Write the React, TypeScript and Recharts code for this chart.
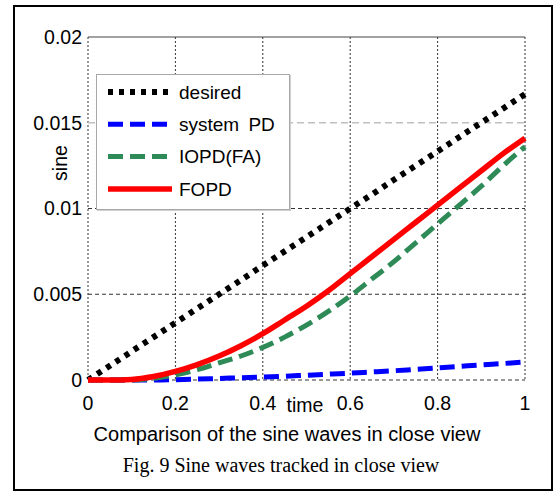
import React from 'react';
import { LineChart, Line, XAxis, YAxis, CartesianGrid, Legend, ReferenceLine } from 'recharts';

// time samples
const time = [0, 0.05, 0.1, 0.15, 0.2, 0.25, 0.3, 0.35, 0.4, 0.45, 0.5, 0.55, 0.6, 0.65, 0.7, 0.75, 0.8, 0.85, 0.9, 0.95, 1];

const desired = [0, 0.00083, 0.00167, 0.0025, 0.00333, 0.00417, 0.005, 0.00583, 0.00667, 0.0075, 0.00833, 0.00917, 0.01, 0.01083, 0.01167, 0.0125, 0.01333, 0.01417, 0.015, 0.01583, 0.01667];
const systemPD = [0, 0, 0, 0, 0.00002, 0.00005, 0.00009, 0.00013, 0.00017, 0.00022, 0.00028, 0.00034, 0.0004, 0.00047, 0.00054, 0.00062, 0.0007, 0.00079, 0.00088, 0.00096, 0.00105];
const iopdFA = [0, 0, 0, 0.0001, 0.0003, 0.0006, 0.001, 0.0014, 0.0019, 0.0025, 0.0032, 0.004, 0.0049, 0.0059, 0.0069, 0.008, 0.0091, 0.0102, 0.0113, 0.0125, 0.0136];
const fopd = [0, 0, 0.00003, 0.0002, 0.0005, 0.0009, 0.0014, 0.002, 0.0027, 0.0035, 0.0043, 0.0052, 0.0062, 0.0072, 0.0082, 0.0092, 0.0102, 0.0112, 0.0122, 0.0132, 0.0141];

const xTicks = [0, 0.2, 0.4, 0.6, 0.8, 1];
const xTickLabels = ['0', '0.2', '0.4', '0.6', '0.8', '1'];
const yTicks = [0, 0.005, 0.01, 0.015, 0.02];
const yTickLabels = ['0', '0.005', '0.01', '0.015', '0.02'];

const data = time.map((t, i) => ({
  t,
  desired: desired[i],
  systemPD: systemPD[i],
  iopdFA: iopdFA[i],
  fopd: fopd[i],
}));

const series = [
  { key: 'desired', name: 'desired', color: '#000000', width: 6, dash: '5 6' },
  { key: 'systemPD', name: 'system PD', color: '#0000ff', width: 5, dash: '15 7' },
  { key: 'iopdFA', name: 'IOPD(FA)', color: '#2e8b57', width: 5, dash: '15 7' },
  { key: 'fopd', name: 'FOPD', color: '#ff0000', width: 5.5, dash: undefined as string | undefined },
];

const FONT = 'Arial, "Liberation Sans", sans-serif';

// legend keeps the plotting order (desired first, FOPD last)
const LegendBox = () => (
  <div
    style={{
      width: 194,
      height: 136,
      boxSizing: 'border-box',
      background: '#fff',
      border: '1px solid #a8a8a8',
      boxShadow: '1px 1px 0 #cfcfcf',
    }}
  >
    <svg width={192} height={134} style={{ display: 'block' }}>
      {series.map((s, i) => {
        const cy = 17 + i * 32.3;
        return (
          <g key={s.key}>
            <line x1={11} x2={75} y1={cy} y2={cy} stroke={s.color} strokeWidth={s.width} strokeDasharray={s.dash} />
            <text x={82} y={cy} dy="0.36em" fontSize={19} fontFamily={FONT} fill="#000" wordSpacing={4}>
              {s.name}
            </text>
          </g>
        );
      })}
    </svg>
  </div>
);

const App: React.FC = () => {
  return (
    <div style={{ position: 'absolute', left: 0, top: 0, width: 555, height: 492, background: '#fff', fontFamily: FONT }}>
      <div
        style={{
          position: 'absolute',
          left: 13,
          top: 5,
          width: 540,
          height: 486,
          boxSizing: 'border-box',
          border: '2px solid #000',
        }}
      />
      <div style={{ position: 'absolute', left: 0, top: 0 }}>
        <LineChart width={555} height={492} data={data} margin={{ top: 37, right: 30, bottom: 82, left: 28 }}>
          <CartesianGrid horizontal={false} stroke="#333" strokeDasharray="2 2" verticalValues={xTicks} />
          <CartesianGrid vertical={false} stroke="#333" strokeDasharray="4 3" horizontalValues={[0, 0.005, 0.01]} />
          <ReferenceLine y={0.015} stroke="#c0c0c0" strokeWidth={1.5} strokeDasharray="7 4" />
          <ReferenceLine y={0.02} stroke="#444" strokeWidth={1} />
          <XAxis
            type="number"
            dataKey="t"
            domain={[0, 1]}
            ticks={xTicks}
            tickFormatter={(v: number) => xTickLabels[xTicks.indexOf(v)] ?? String(v)}
            axisLine={false}
            tickLine={false}
            tickSize={6}
            tickMargin={10}
            tick={{ fill: '#000', fontSize: 19.5, fontFamily: FONT }}
            height={30}
          />
          <YAxis
            type="number"
            domain={[0, 0.02]}
            ticks={yTicks}
            tickFormatter={(v: number) => yTickLabels[yTicks.indexOf(v)] ?? String(v)}
            axisLine={false}
            tickLine={false}
            tickSize={6}
            tickMargin={0}
            tick={{ fill: '#000', fontSize: 19.5, fontFamily: FONT }}
            width={60}
          />
          <Legend
            layout="vertical"
            align="center"
            verticalAlign="middle"
            content={LegendBox}
            wrapperStyle={{ left: 96, top: 74, width: 194, height: 136 }}
          />
          {series.map((s) => (
            <Line
              key={s.key}
              type="monotone"
              dataKey={s.key}
              name={s.name}
              stroke={s.color}
              strokeWidth={s.width}
              strokeDasharray={s.dash}
              dot={false}
              activeDot={false}
              isAnimationActive={false}
            />
          ))}
        </LineChart>
      </div>
      <div
        style={{
          position: 'absolute',
          left: 61,
          top: 163,
          transform: 'translate(-50%, -50%) rotate(-90deg)',
          fontSize: 19.5,
          lineHeight: 1,
          whiteSpace: 'nowrap',
        }}
      >
        sine
      </div>
      <div
        style={{
          position: 'absolute',
          left: 305,
          top: 396,
          transform: 'translateX(-50%)',
          fontSize: 19.5,
          lineHeight: 1,
          whiteSpace: 'nowrap',
        }}
      >
        time
      </div>
      <div
        style={{
          position: 'absolute',
          left: 287,
          top: 424,
          transform: 'translateX(-50%)',
          fontSize: 20,
          lineHeight: 1,
          whiteSpace: 'nowrap',
        }}
      >
        Comparison of the sine waves in close view
      </div>
      <div
        style={{
          position: 'absolute',
          left: 281,
          top: 455,
          transform: 'translateX(-50%)',
          fontSize: 20,
          lineHeight: 1,
          whiteSpace: 'nowrap',
          fontFamily: '"Times New Roman", "Liberation Serif", serif',
        }}
      >
        Fig. 9 Sine waves tracked in close view
      </div>
    </div>
  );
};

export default App;
